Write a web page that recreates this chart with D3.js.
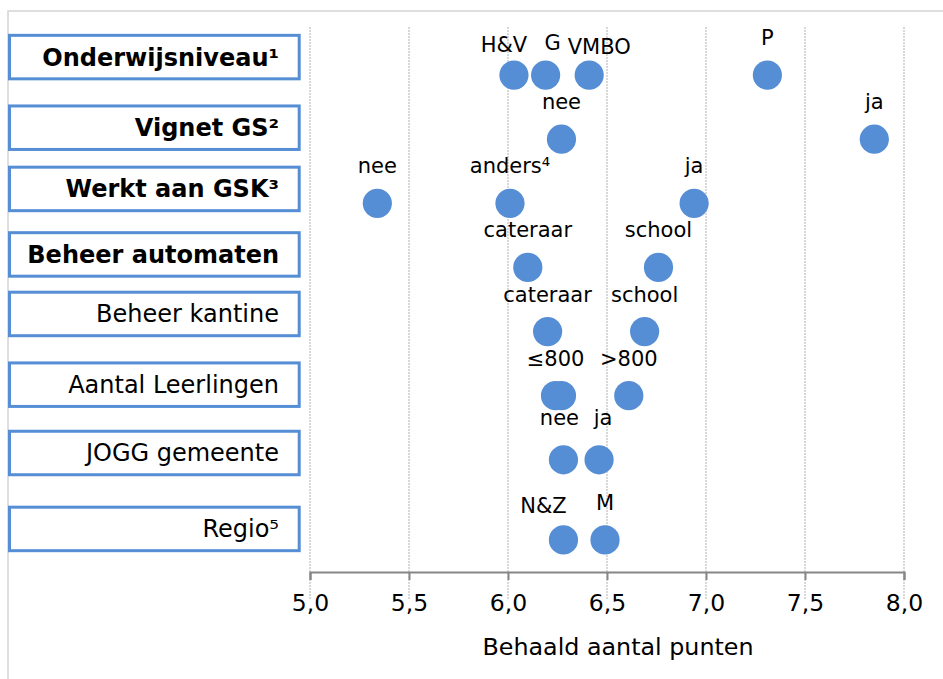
<!DOCTYPE html>
<html>
<head>
<meta charset="utf-8">
<script src="https://cdn.jsdelivr.net/npm/d3@7"></script>
<style>
  body { margin: 0; background: #fff; }
  svg text { font-family: "DejaVu Sans", Verdana, sans-serif; fill: #000; }
</style>
</head>
<body>
<svg id="chart"></svg>
<script>
// rows (category name + y value used in the original scatter)
var rowNames = ["Onderwijsniveau¹", "Vignet GS²", "Werkt aan GSK³", "Beheer automaten",
                "Beheer kantine", "Aantal Leerlingen", "JOGG gemeente", "Regio⁵"];
var rowY = [8, 7, 6, 5, 4, 3, 2, 0.75];

// points
var pointRow   = [0, 0, 0, 0, 1, 1, 2, 2, 2, 3, 3, 4, 4, 5, 5, 5, 6, 6, 7, 7];
var pointLabel = ["H&V", "G", "VMBO", "P", "nee", "ja", "nee", "anders⁴", "ja",
                  "cateraar", "school", "cateraar", "school", "≤800", "", ">800",
                  "nee", "ja", "N&Z", "M"];
var pointScore = [6.03, 6.19, 6.41, 7.31, 6.27, 7.85, 5.34, 6.01, 6.94,
                  6.10, 6.76, 6.20, 6.69, 6.24, 6.27, 6.61, 6.28, 6.46, 6.28, 6.49];

var xTicks = [5.0, 5.5, 6.0, 6.5, 7.0, 7.5, 8.0];
var xTitle = "Behaald aantal punten";

var width = 943;
var height = 679;
var blue = "#558ed5";

var svg = d3.select("#chart").attr("width", width).attr("height", height);

var x = d3.scaleLinear().domain([5, 8]).range([310, 904]);
var y = d3.scaleLinear().domain([0.25, 8.75]).range([572, 27]);

// outer frame (top + left only)
svg.append("path")
    .attr("d", "M8,679V11H943")
    .attr("fill", "none")
    .attr("stroke", "#d4d4d4")
    .attr("stroke-width", 1.5);

// vertical gridlines
svg.append("g")
    .selectAll("line")
    .data(xTicks)
    .enter().append("line")
    .attr("x1", function(d) { return x(d); })
    .attr("x2", function(d) { return x(d); })
    .attr("y1", y.range()[1])
    .attr("y2", 600)
    .attr("stroke", "#c4c4c4")
    .attr("stroke-width", 1.3)
    .attr("stroke-dasharray", "2,1");

// x axis
var xAxis = d3.axisBottom(x)
    .tickValues(xTicks)
    .tickSize(8)
    .tickPadding(14)
    .tickFormat(function(d) { return d3.format(".1f")(d).replace(".", ","); });

var axisG = svg.append("g")
    .attr("transform", "translate(0," + y.range()[0] + ")")
    .call(xAxis);
axisG.select(".domain").attr("stroke", "#868686").attr("stroke-width", 2);
axisG.selectAll(".tick line").attr("stroke", "#868686").attr("stroke-width", 2);
axisG.selectAll(".tick text")
    .style("font-size", "23.5px")
    .attr("fill", "#000");

svg.append("text")
    .attr("x", 618)
    .attr("y", 655)
    .attr("text-anchor", "middle")
    .style("font-size", "23.8px")
    .text(xTitle);

// category boxes on the left (hand placed shapes, slightly above each row)
var boxShift = [-18, -11.5, -14.4, -13, -17.6, -11, -6.8, -11];
var boxH = 43.5;
var boxes = svg.append("g")
    .selectAll("g")
    .data(rowNames)
    .enter().append("g")
    .attr("transform", function(d, i) { return "translate(0," + (y(rowY[i]) + boxShift[i]) + ")"; });

boxes.append("rect")
    .attr("x", 9.5)
    .attr("y", -boxH / 2)
    .attr("width", 289.7)
    .attr("height", boxH)
    .attr("fill", "#fff")
    .attr("stroke", blue)
    .attr("stroke-width", 3);

boxes.append("text")
    .attr("x", 279)
    .attr("y", 8.5)
    .attr("text-anchor", "end")
    .style("font-size", "24px")
    .style("font-weight", function(d, i) { return i < 4 ? "bold" : "normal"; })
    .text(function(d) { return d; });

// dots
var points = pointScore.map(function(v, i) {
    return { score: v, row: pointRow[i], label: pointLabel[i] };
});

svg.append("g")
    .selectAll("circle")
    .data(points)
    .enter().append("circle")
    .attr("cx", function(d) { return x(d.score); })
    .attr("cy", function(d) { return y(rowY[d.row]); })
    .attr("r", 14.6)
    .attr("fill", blue);

// data labels: centred above the dot, a few were dragged by hand
var nudge = { 0: [-10, 7], 1: [7, 5], 2: [10, 9], 16: [-4, -5], 17: [4, -5], 18: [-20, 3] };

svg.append("g")
    .selectAll("text")
    .data(points)
    .enter().append("text")
    .attr("x", function(d, i) { return x(d.score) + (nudge[i] ? nudge[i][0] : 0); })
    .attr("y", function(d, i) { return y(rowY[d.row]) - 30 + (nudge[i] ? nudge[i][1] : 0); })
    .attr("text-anchor", "middle")
    .style("font-size", "21px")
    .text(function(d) { return d.label; });
</script>
</body>
</html>
